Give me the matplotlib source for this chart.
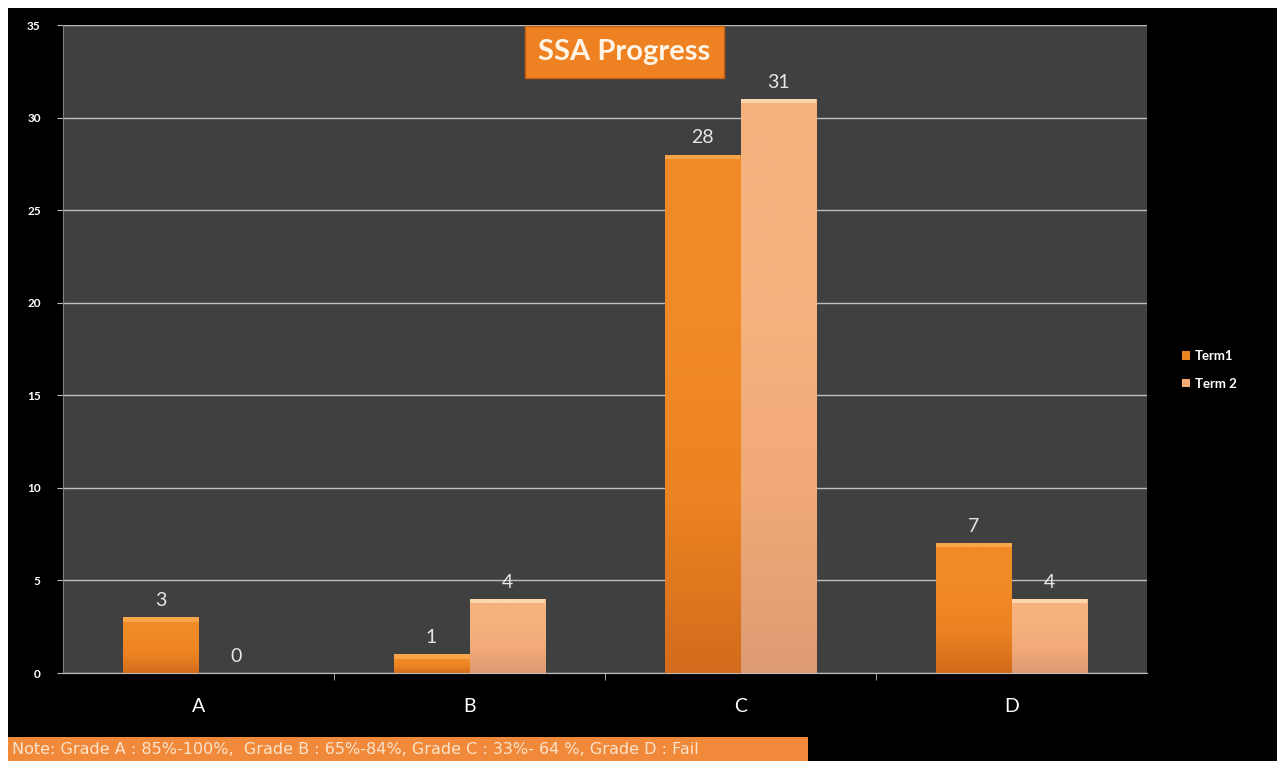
import numpy as np
import matplotlib.pyplot as plt
from matplotlib.colors import LinearSegmentedColormap
from matplotlib.patches import Rectangle

grades = ["A", "B", "C", "D"]
term1 = [3, 1, 28, 7]
term2 = [0, 4, 31, 4]
series_names = ["Term1", "Term 2"]
yticks = [0, 5, 10, 15, 20, 25, 30, 35]
note = "Note: Grade A : 85%-100%,  Grade B : 65%-84%, Grade C : 33%- 64 %, Grade D : Fail"

plt.rcParams['font.family'] = ['Lato', 'DejaVu Sans']

fig = plt.figure(figsize=(12.77, 7.61), dpi=100)
fig.patch.set_facecolor("white")
# black slide background with a thin white margin top/left
fig.add_artist(Rectangle((8/1277, 0), 1, 1 - 8/761, transform=fig.transFigure,
                         facecolor="black", edgecolor="none", zorder=0))

ax = fig.add_axes([63/1277, 1 - 673/761, (1147-63)/1277, (673-25)/761])
ax.set_facecolor("#404040")

x = np.arange(len(grades))
w = 0.28
b1 = ax.bar(x - w/2, term1, w, color="#EE8420", zorder=3, label=series_names[0])
b2 = ax.bar(x + w/2, term2, w, color="#F4AB74", zorder=3, label=series_names[1])

# soft shading: slightly darker near the base, light rim on top
grad = np.linspace(0, 1, 256).reshape(-1, 1)
cm1 = LinearSegmentedColormap.from_list("t1", ["#D26C1C", "#EC8322", "#F08A26", "#F08A26"])
cm2 = LinearSegmentedColormap.from_list("t2", ["#DE9A72", "#F2AA78", "#F6B27E", "#F6B27E"])
rim = 0.22
for bars, cm, rc in ((b1, cm1, "#F7A548"), (b2, cm2, "#FDD6AC")):
    for r in bars:
        h = r.get_height()
        if h <= 0:
            continue
        x0 = r.get_x()
        im = ax.imshow(grad, extent=[x0, x0 + r.get_width(), 0, h], origin="lower",
                       aspect="auto", cmap=cm, zorder=3.5)
        im.set_clip_path(r)
        ax.add_patch(Rectangle((x0, h - min(rim, h * 0.5)), r.get_width(), min(rim, h * 0.5),
                               facecolor=rc, edgecolor="none", zorder=3.6))

for bars, vals in ((b1, term1), (b2, term2)):
    for r, v in zip(bars, vals):
        ax.annotate(str(v), (r.get_x() + r.get_width()/2, v), xytext=(0, 6),
                    textcoords="offset points", ha="center", va="bottom",
                    color="#E6E6E6", fontsize=14, zorder=5)

ax.set_xlim(-0.5, 3.5)
ax.set_ylim(0, 35)
ax.set_yticks(yticks)
ax.set_yticklabels([str(t) for t in yticks], color="white", fontsize=8.5, fontweight="bold")
ax.yaxis.grid(True, color="#BFBFBF", linewidth=1, zorder=1)
ax.set_axisbelow(True)
ax.set_xticks(x)
ax.set_xticklabels(grades, color="white", fontsize=14)
ax.tick_params(axis="x", length=0, pad=18)
ax.set_xticks([0.5, 1.5, 2.5], minor=True)
ax.tick_params(axis="x", which="minor", length=5, color="#BFBFBF", direction="out")
ax.tick_params(axis="y", length=4, color="#BFBFBF", pad=12)
for s in ("top", "right"):
    ax.spines[s].set_visible(False)
ax.spines["left"].set_color("#808080")
ax.spines["bottom"].set_color("#BFBFBF")

ax.text(0.518, 0.958, "SSA Progress", transform=ax.transAxes, ha="center", va="center",
        color="#FFF4E6", fontsize=21, fontweight="bold", zorder=6,
        bbox=dict(boxstyle="square,pad=0.45", facecolor="#EE8222", edgecolor="#C86010"))

leg = fig.legend(handles=[b1, b2], labels=series_names, loc="center left",
                 bbox_to_anchor=(1170/1277, 1 - 370/761), frameon=False,
                 handlelength=0.6, handleheight=0.6, handletextpad=0.4,
                 labelspacing=1.2, prop={"weight": "bold", "size": 9.5})
for t in leg.get_texts():
    t.set_color("white")

fig.add_artist(Rectangle((8/1277, 0), 800/1277, 24/761, transform=fig.transFigure,
                         facecolor="#F0893A", edgecolor="none", zorder=2))
fig.text(12/1277, 11/761, note, color="#FCE3CC", fontsize=11.5, va="center", ha="left",
         family="DejaVu Sans", zorder=3)

fig.savefig("out.png", dpi=100, facecolor=fig.get_facecolor())
